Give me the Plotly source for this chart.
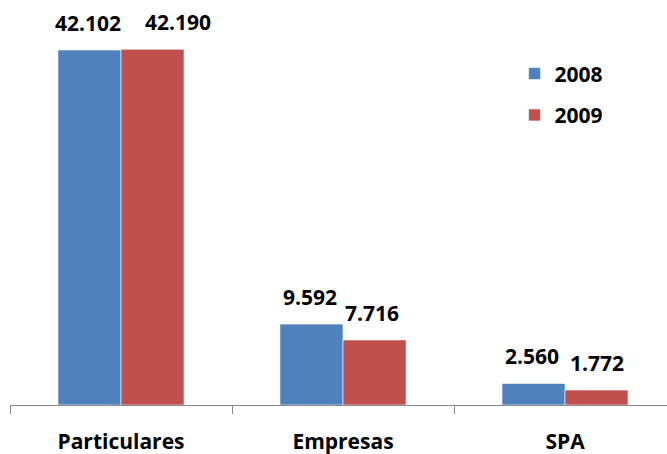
import plotly.graph_objects as go

categories = ["Particulares", "Empresas", "SPA"]
series_names = ["2008", "2009"]
values_2008 = [42102, 9592, 2560]
values_2009 = [42190, 7716, 1772]
colors = ["#4F81BD", "#C0504D"]

FONT = "Open Sans"
fig = go.Figure()
for i, (name, vals) in enumerate(zip(series_names, [values_2008, values_2009])):
    fig.add_trace(go.Bar(
        x=categories, y=vals, name=name, legendgroup=name,
        marker=dict(color=colors[i], line=dict(color="rgba(255,255,255,0.6)", width=1)),
    ))

def fmt(v):
    return f"{v:,}".replace(",", ".")

# label nudges (px) to avoid overlapping labels, as in the original
nudge_2009 = [25, -3, 0]
for i, vals in enumerate([values_2008, values_2009]):
    shift = -31.5 if i == 0 else 31.5
    for j, (c, v) in enumerate(zip(categories, vals)):
        extra = nudge_2009[j] if i == 1 else -2
        fig.add_annotation(x=c, y=v, xref="x", yref="y", text=fmt(v), showarrow=False,
                           xshift=shift + extra, yanchor="bottom", yshift=11,
                           font=dict(family=FONT, size=21, color="black", weight="bold"))

fig.update_layout(
    width=667, height=454,
    margin=dict(l=10, r=0, t=0, b=49, autoexpand=False),
    paper_bgcolor="white", plot_bgcolor="white",
    barmode="group", bargap=0.432, bargroupgap=0,
    showlegend=True,
    legend=dict(x=0.768, y=0.868, xanchor="left", yanchor="top",
                font=dict(family=FONT, size=21, color="black", weight="bold"),
                tracegroupgap=11, bgcolor="rgba(0,0,0,0)"),
    xaxis=dict(range=[-0.5, -0.5 + 657 / 222], showline=True, linecolor="#868686", linewidth=1,
               ticks="outside", tickson="boundaries", ticklen=8, tickcolor="#868686",
               tickfont=dict(family=FONT, size=21, color="black", weight="bold"),
               ticklabelstandoff=18, showgrid=False, zeroline=False, automargin=False),
    yaxis=dict(range=[0, 48030], visible=False, showgrid=False, zeroline=False, automargin=False),
)

fig.write_html("out.html")
